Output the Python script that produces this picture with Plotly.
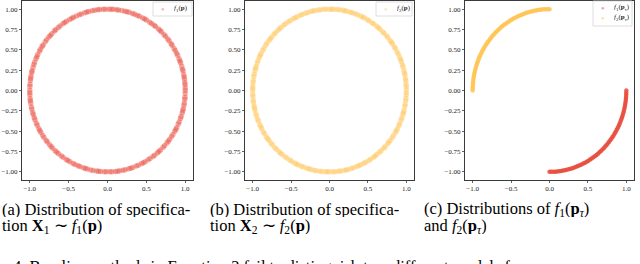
import numpy as np
import plotly.graph_objects as go

W, H = 640, 264

f1_angles = [0, 1.8, 4.1, 5.5, 7.9, 9.6, 11.2, 13.8, 15.1, 17.4, 19.9, 21.3, 23.0, 25.6, 27.2, 29.5,
             31.1, 33.8, 35.0, 37.6, 39.2, 41.7, 43.3, 45.9, 47.4, 49.0, 51.8, 53.2, 55.5, 57.1, 59.9,
             61.4, 63.0, 65.7, 67.3, 69.6, 71.2, 73.8, 75.5, 77.1, 79.4, 81.9, 83.2, 85.7, 87.3, 89.0,
             91.6, 93.1, 95.8, 97.2, 99.5, 101.3, 103.9, 105.4, 107.0, 109.7, 111.2, 113.5, 115.9,
             117.3, 119.1, 121.8, 123.4, 125.0, 127.6, 129.3, 131.8, 133.1, 135.7, 137.4, 139.0, 141.5,
             143.2, 145.9, 147.3, 149.6, 151.1, 153.8, 155.4, 157.0, 159.7, 161.3, 163.5, 165.9, 167.2,
             169.8, 171.4, 173.0, 175.6, 177.1, 179.9, 181.5, 183.2, 185.8, 187.3, 189.0, 191.7, 193.4,
             195.9, 197.2, 199.6, 201.1, 203.8, 205.3, 207.9, 209.4, 211.0, 213.6, 215.2, 217.9, 219.3,
             221.8, 223.5, 225.1, 227.7, 229.3, 231.0, 233.6, 235.2, 237.9, 239.4, 241.1, 243.7, 245.3,
             247.8, 249.2, 251.9, 253.5, 255.0, 257.6, 259.3, 261.9, 263.4, 265.0, 267.7, 269.2, 271.8,
             273.3, 275.9, 277.5, 279.1, 281.6, 283.2, 285.8, 287.4, 289.0, 291.7, 293.3, 295.9, 297.4,
             299.0, 301.5, 303.2, 305.8, 307.3, 309.9, 311.4, 313.0, 315.7, 317.2, 319.8, 321.5, 323.1,
             325.6, 327.3, 329.9, 331.4, 333.0, 335.6, 337.2, 339.8, 341.3, 343.9, 345.5, 347.1, 349.6,
             351.2, 353.8, 355.3, 357.9]
f2_angles = [0.7, 2.9, 4.4, 6.8, 8.3, 10.9, 12.5, 14.2, 16.8, 18.3, 20.7, 22.4, 24.1, 26.6, 28.3,
             30.8, 32.4, 34.9, 36.3, 38.0, 40.6, 42.2, 44.8, 46.3, 48.9, 50.5, 52.1, 54.7, 56.2, 58.8,
             60.3, 62.9, 64.5, 66.1, 68.7, 70.4, 72.9, 74.3, 76.8, 78.5, 80.1, 82.6, 84.3, 86.9, 88.4,
             90.0, 92.5, 94.2, 96.7, 98.3, 100.9, 102.4, 104.1, 106.6, 108.2, 110.8, 112.3, 114.9,
             116.5, 118.1, 120.7, 122.3, 124.8, 126.4, 128.9, 130.5, 132.2, 134.7, 136.3, 138.8, 140.4,
             142.0, 144.6, 146.2, 148.7, 150.3, 152.9, 154.5, 156.1, 158.6, 160.2, 162.8, 164.4, 166.0,
             168.5, 170.1, 172.7, 174.3, 176.9, 178.4, 180.0, 182.6, 184.2, 186.8, 188.3, 190.9, 192.4,
             194.0, 196.6, 198.2, 200.7, 202.3, 204.9, 206.5, 208.1, 210.6, 212.2, 214.8, 216.4, 218.0,
             220.5, 222.1, 224.7, 226.3, 228.9, 230.4, 232.0, 234.6, 236.2, 238.8, 240.3, 242.9, 244.5,
             246.1, 248.6, 250.2, 252.8, 254.4, 256.0, 258.5, 260.1, 262.7, 264.3, 266.9, 268.4, 270.0,
             272.6, 274.2, 276.8, 278.3, 280.9, 282.5, 284.1, 286.6, 288.2, 290.8, 292.4, 294.0, 296.5,
             298.1, 300.7, 302.3, 304.9, 306.4, 308.0, 310.6, 312.2, 314.8, 316.3, 318.9, 320.5, 322.1,
             324.6, 326.2, 328.8, 330.4, 332.0, 334.5, 336.1, 338.7, 340.3, 342.9, 344.4, 346.0, 348.6,
             350.2, 352.8, 354.3, 356.9, 358.5]
f1_tau_angles = [-90.0, -88.6, -87.1, -85.7, -84.2, -82.8, -81.3, -79.9, -78.4, -77.0, -75.5, -74.1,
                 -72.6, -71.2, -69.7, -68.3, -66.8, -65.4, -63.9, -62.5, -61.0, -59.6, -58.1, -56.7,
                 -55.2, -53.8, -52.3, -50.9, -49.4, -48.0, -46.5, -45.1, -43.6, -42.2, -40.7, -39.3,
                 -37.8, -36.4, -34.9, -33.5, -32.0, -30.6, -29.1, -27.7, -26.2, -24.8, -23.3, -21.9,
                 -20.4, -19.0, -17.5, -16.1, -14.6, -13.2, -11.7, -10.3, -8.8, -7.4, -5.9, -4.5,
                 -3.0, -1.6, 0.0]
f2_tau_angles = [90.0, 91.4, 92.9, 94.3, 95.8, 97.2, 98.7, 100.1, 101.6, 103.0, 104.5, 105.9, 107.4,
                 108.8, 110.3, 111.7, 113.2, 114.6, 116.1, 117.5, 119.0, 120.4, 121.9, 123.3, 124.8,
                 126.2, 127.7, 129.1, 130.6, 132.0, 133.5, 134.9, 136.4, 137.8, 139.3, 140.7, 142.2,
                 143.6, 145.1, 146.5, 148.0, 149.4, 150.9, 152.3, 153.8, 155.2, 156.7, 158.1, 159.6,
                 161.0, 162.5, 163.9, 165.4, 166.8, 168.3, 169.7, 171.2, 172.6, 174.1, 175.5, 177.0,
                 178.4, 180.0]

x_tick_vals = [-1.0, -0.5, 0.0, 0.5, 1.0]
x_tick_text = ["\u22121.0", "\u22120.5", "0.0", "0.5", "1.0"]
y_tick_vals = [1.0, 0.75, 0.5, 0.25, 0.0, -0.25, -0.5, -0.75, -1.0]
y_tick_text = ["1.00", "0.75", "0.50", "0.25", "0.00", "\u22120.25", "\u22120.50", "\u22120.75", "\u22121.00"]

captions_line1 = ["(a) Distribution of specifica-", "(b) Distribution of specifica-",
                  "(c) Distributions of <i>f</i><sub>1</sub>(<b>p</b><sub><i>\u03c4</i></sub>)"]
captions_line2 = ["tion <b>X</b><sub>1</sub> \u223c <i>f</i><sub>1</sub>(<b>p</b>)",
                  "tion <b>X</b><sub>2</sub> \u223c <i>f</i><sub>2</sub>(<b>p</b>)",
                  "and <i>f</i><sub>2</sub>(<b>p</b><sub><i>\u03c4</i></sub>)"]
figure_caption = "4. Baseline methods in Equation 2 fail to distinguish two different models f"

RED = "rgb(232,76,61)"
YEL = "rgb(255,196,84)"
SERIF = "Liberation Serif, Times New Roman, serif"


def xy(angles):
    r = np.deg2rad(np.array(angles, dtype=float))
    return np.cos(r), np.sin(r)


def px_x(p):
    return p / W


def px_y(p):
    return 1 - p / H


fig = go.Figure()

panels = [
    ("", 22, 193, [(f1_angles, RED, 0.45, 5.5)]),
    ("2", 245, 414, [(f2_angles, YEL, 0.45, 5.5)]),
    ("3", 465, 634, [(f1_tau_angles, RED, 0.85, 4.5), (f2_tau_angles, YEL, 0.85, 4.5)]),
]
top, bottom = 1, 180

layout = dict(width=W, height=H, margin=dict(l=0, r=0, t=0, b=0, autoexpand=False),
              paper_bgcolor="white", plot_bgcolor="white", showlegend=False)

for suffix, x0, x1, traces in panels:
    for ang, col, op, sz in traces:
        xs, ys = xy(ang)
        fig.add_trace(go.Scatter(x=xs, y=ys, mode="markers",
                                 xaxis="x" + suffix, yaxis="y" + suffix,
                                 marker=dict(color=col, size=sz, opacity=op, line=dict(width=0)),
                                 hoverinfo="skip"))
    axcommon = dict(range=[-1.1, 1.1], showgrid=False, zeroline=False, showline=True,
                    linecolor="#3a3a3a", linewidth=1, mirror=True, ticks="outside",
                    ticklen=2, tickwidth=0.8, tickcolor="#3a3a3a", automargin=False,
                    ticklabeloverflow="allow",
                    tickfont=dict(family=SERIF, size=7, color="#222"))
    layout["xaxis" + suffix] = dict(axcommon, domain=[px_x(x0), px_x(x1)],
                                    anchor="y" + suffix, tickvals=x_tick_vals,
                                    ticktext=x_tick_text)
    layout["yaxis" + suffix] = dict(axcommon, domain=[px_y(bottom), px_y(top)],
                                    anchor="x" + suffix, tickvals=y_tick_vals,
                                    ticktext=y_tick_text)

fig.update_layout(**layout)

shapes = []
annotations = []

legends = [
    (153, 192, 2, 16, [(RED, 0.4, "<i>f</i><sub>1</sub>(<b>p</b>)")]),
    (376, 412, 2, 16, [(YEL, 0.4, "<i>f</i><sub>2</sub>(<b>p</b>)")]),
    (593, 632, 1, 26, [(RED, 0.5, "<i>f</i><sub>1</sub>(<b>p</b><sub>\u03c4</sub>)"),
                       (YEL, 0.5, "<i>f</i><sub>2</sub>(<b>p</b><sub>\u03c4</sub>)")]),
]
for lx0, lx1, ly0, ly1, items in legends:
    shapes.append(dict(type="rect", xref="paper", yref="paper",
                       x0=px_x(lx0), x1=px_x(lx1), y0=px_y(ly1), y1=px_y(ly0),
                       line=dict(color="#d6d6d6", width=0.8), fillcolor="rgba(255,255,255,0.8)"))
    for i, (col, op, lab) in enumerate(items):
        cy = ly0 + 7 + i * 10
        annotations.append(dict(xref="paper", yref="paper", x=px_x(lx0 + 10), y=px_y(cy),
                                text="\u25cf", showarrow=False, xanchor="center", yanchor="middle",
                                height=8, font=dict(size=6, color=col), opacity=op))
        annotations.append(dict(xref="paper", yref="paper", x=px_x(lx0 + 19), y=px_y(cy),
                                text=lab, showarrow=False, xanchor="left", yanchor="middle",
                                height=9, font=dict(family=SERIF, size=7, color="#222")))

cap_x = [0, 208, 422]
for i in range(3):
    annotations.append(dict(xref="paper", yref="paper", x=px_x(cap_x[i]), y=px_y(209),
                            text=captions_line1[i], showarrow=False, xanchor="left",
                            yanchor="middle", height=16, valign="middle",
                            font=dict(family=SERIF, size=16.5, color="black")))
    annotations.append(dict(xref="paper", yref="paper", x=px_x(cap_x[i]), y=px_y(226),
                            text=captions_line2[i], showarrow=False, xanchor="left",
                            yanchor="middle", height=16, valign="middle",
                            font=dict(family=SERIF, size=16.5, color="black")))
annotations.append(dict(xref="paper", yref="paper", x=px_x(11), y=px_y(266),
                        text=figure_caption, showarrow=False, xanchor="left",
                        yanchor="middle", height=16, valign="middle",
                        font=dict(family=SERIF, size=16.5, color="black")))

fig.update_layout(shapes=shapes, annotations=annotations)
fig.write_html("out.html", config={"displayModeBar": False, "staticPlot": True},
               post_script="document.body.style.margin='0';document.body.style.padding='0';")
